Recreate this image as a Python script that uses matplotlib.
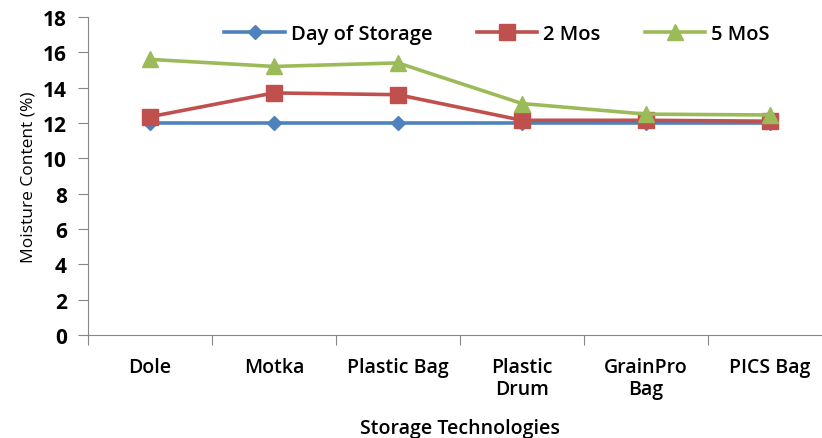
import matplotlib.pyplot as plt
from matplotlib.ticker import FixedLocator, NullFormatter

plt.rcParams["font.family"] = ["Open Sans", "DejaVu Sans"]

categories = ["Dole", "Motka", "Plastic Bag", "Plastic\nDrum", "GrainPro\nBag", "PICS Bag"]
day_of_storage = [12.0, 12.0, 12.0, 12.0, 12.0, 12.0]
two_mos = [12.35, 13.7, 13.6, 12.15, 12.15, 12.1]
five_mos = [15.6, 15.2, 15.4, 13.1, 12.5, 12.45]

fig = plt.figure(figsize=(8.22, 4.39), dpi=100)
ax = fig.add_axes([0.107, 0.235, 0.905, 0.724])

x = list(range(len(categories)))
ax.plot(x, day_of_storage, color="#4F81BD", lw=2.6, marker="D", ms=7,
        label="Day of Storage")
ax.plot(x, two_mos, color="#C0504D", lw=2.6, marker="s", ms=11,
        label="2 Mos")
ax.plot(x, five_mos, color="#9BBB59", lw=2.6, marker="^", ms=12,
        label="5 MoS")

ax.set_xlim(-0.5, len(categories) - 0.5)
ax.set_ylim(0, 18)
ax.set_yticks(range(0, 19, 2))

# boundary ticks between categories, labels centred on categories
ax.xaxis.set_major_locator(FixedLocator([i - 0.5 for i in range(len(categories) + 1)]))
ax.xaxis.set_major_formatter(NullFormatter())
ax.xaxis.set_minor_locator(FixedLocator(x))
ax.set_xticklabels(categories, minor=True, fontsize=14, fontweight="semibold",
                   va="top", linespacing=1.1)
ax.tick_params(axis="x", which="minor", length=0, pad=16)
ax.tick_params(axis="x", which="major", length=7, color="#868686")
ax.tick_params(axis="y", length=7, color="#868686", labelsize=15, pad=8)
for lab in ax.get_yticklabels():
    lab.set_fontweight("bold")

for side in ["top", "right"]:
    ax.spines[side].set_visible(False)
for side in ["left", "bottom"]:
    ax.spines[side].set_color("#868686")

ax.set_ylabel("Moisture Content (%)", fontsize=12.5, labelpad=5)
ax.set_xlabel("Storage Technologies", fontsize=14, fontweight="semibold", labelpad=14)

ax.legend(loc="upper center", bbox_to_anchor=(0.55, 1.035), ncol=3, frameon=False,
          handlelength=3.0, columnspacing=2.2, handletextpad=0.3,
          prop={"weight": "semibold", "size": 14.5})

fig.savefig("out.png", dpi=100)
